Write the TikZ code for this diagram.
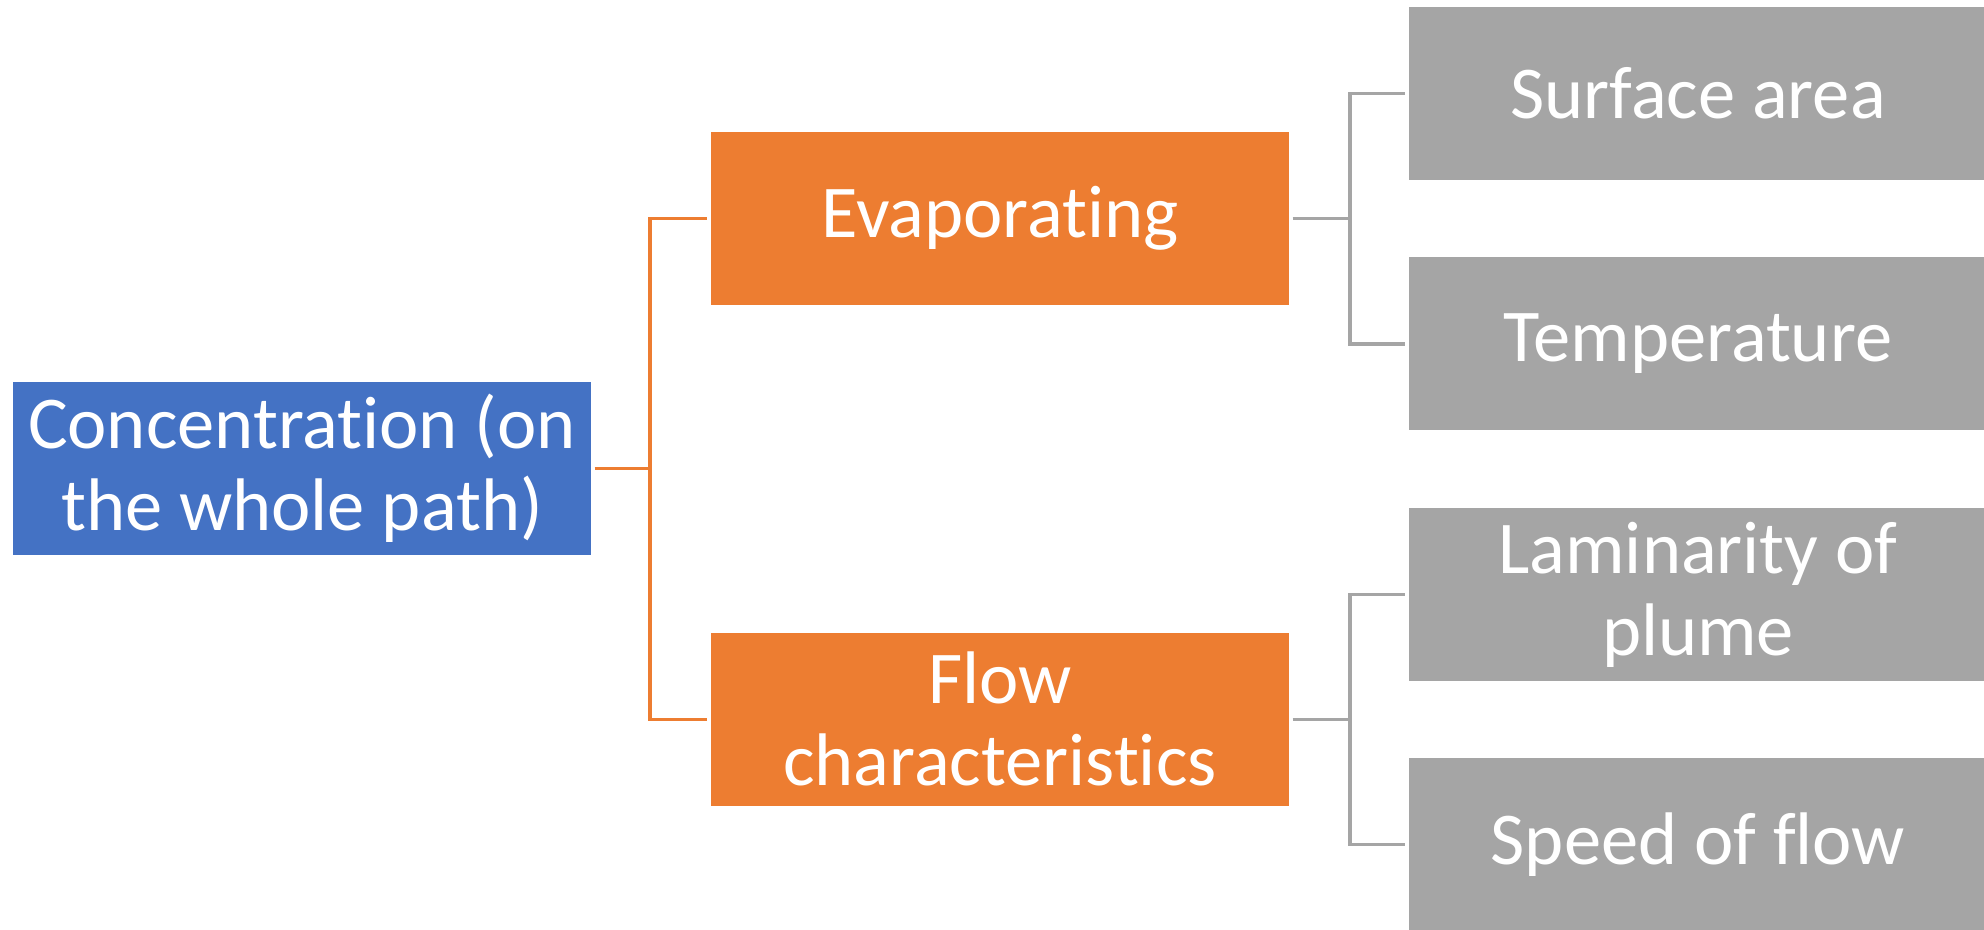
\documentclass[tikz,border=0pt]{standalone}
\usepackage{fontspec}
\setmainfont{Carlito}[Ligatures=NoCommon]
\definecolor{boxblue}{HTML}{4472C4}
\definecolor{boxorange}{HTML}{ED7D31}
\definecolor{boxgray}{HTML}{A5A5A5}
\begin{document}
\begin{tikzpicture}[scale=1.0,
		box/.style={minimum width=5.78cm, minimum height=1.73cm, inner sep=0pt,
			text=white, align=center, font=\fontsize{21.2}{23.3}\selectfont},
		rootbox/.style={box, fill=boxblue},
		midbox/.style={box, fill=boxorange},
		leafbox/.style={box, fill=boxgray},
		oline/.style={draw=boxorange, line width=0.9pt},
		gline/.style={draw=boxgray, line width=0.9pt}]
		\useasboundingbox (0,0) rectangle (19.84,9.30);
		% boxes
		\node[rootbox] (conc) at (3.02,4.615) {Concentration (on\\the whole path)};
		\node[midbox] (evap) at (10.0,7.117) {Evaporating};
		\node[midbox] (flow) at (10.0,2.107) {Flow\\characteristics};
		\node[leafbox] (area) at (16.98,8.363) {Surface area};
		\node[leafbox] (temp) at (16.98,5.86) {Temperature};
		\node[leafbox] (lam) at (16.98,3.355) {Laminarity of\\plume};
		\node[leafbox] (speed) at (16.98,0.855) {Speed of flow};
		% connectors
		\coordinate (obus) at (6.50,4.615);
		\draw[oline] ([xshift=0.03cm]conc.east) -- (obus) |- ([xshift=-0.03cm]evap.west);
		\draw[oline] (obus) |- ([xshift=-0.03cm]flow.west);
		\coordinate (ebus) at (13.50,7.117);
		\draw[gline] ([xshift=0.03cm]evap.east) -- (ebus) |- ([xshift=-0.03cm]area.west);
		\draw[gline] (ebus) |- ([xshift=-0.03cm]temp.west);
		\coordinate (fbus) at (13.50,2.107);
		\draw[gline] ([xshift=0.03cm]flow.east) -- (fbus) |- ([xshift=-0.03cm]lam.west);
		\draw[gline] (fbus) |- ([xshift=-0.03cm]speed.west);
	\end{tikzpicture}
\end{document}
